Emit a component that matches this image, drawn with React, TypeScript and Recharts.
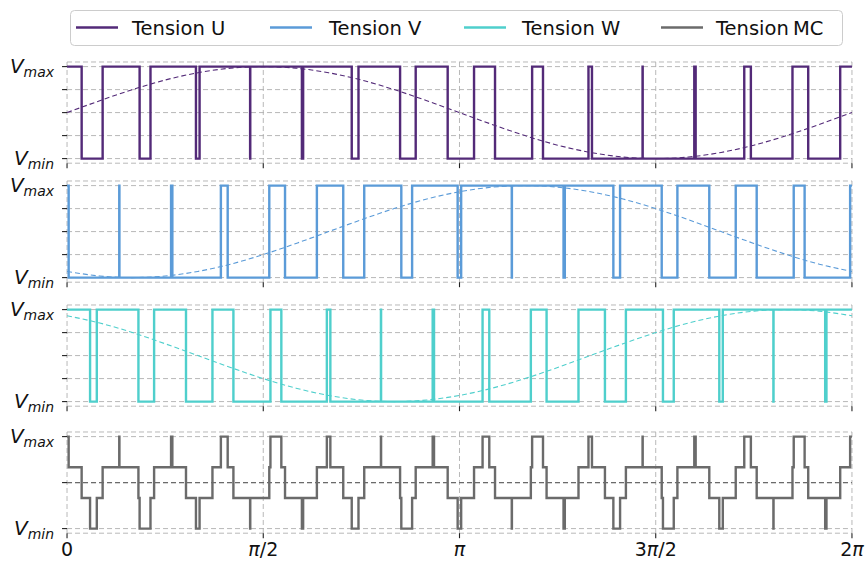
import React from "react";
import { LineChart, Line, XAxis, YAxis, CartesianGrid } from "recharts";

const X_MAX = 6.283185;
const xTicks = [0, 1.570796, 3.141593, 4.712389, 6.283185];
const xTickLabels = ["0", "π/2", "π", "3π/2", "2π"];

const legendLabels = ["Tension U", "Tension V", "Tension W", "Tension MC"];
const colors = ["#532a78", "#5b9bd8", "#4fcfcc", "#6b6b6b"];

// PWM low intervals (start of low level, end of low level), in radians
const uLowStart = [0.117, 0.581, 1.032, 1.4655, 1.88, 2.279, 2.666, 3.047, 3.426, 3.81, 4.202, 4.608, 5.032, 5.474, 5.933];
const uLowEnd = [0.285, 0.668, 1.061, 1.4667, 1.89, 2.333, 2.791, 3.258, 3.723, 4.174, 4.607, 5.021, 5.421, 5.807, 6.189];
const vLowStart = [0.013, 0.4194, 0.8431, 1.286, 1.745, 2.211, 2.6758, 3.1268, 3.5599, 3.9744, 4.3732, 4.7603, 5.1411, 5.5206, 5.9042];
const vLowEnd = [0.418, 0.8328, 1.2315, 1.619, 2.0, 2.379, 2.7623, 3.1549, 3.5611, 3.9846, 4.427, 4.8858, 5.3528, 5.817, 6.2685];
const wLowStart = [0.1844, 0.5715, 0.9523, 1.3318, 1.7154, 2.1078, 2.5139, 2.9377, 3.38, 3.8387, 4.3058, 4.7702, 5.2212, 5.6543, 6.0688];
const wLowEnd = [0.2383, 0.697, 1.164, 1.6282, 2.0798, 2.5127, 2.9269, 3.3263, 3.7127, 4.0941, 4.4736, 4.8567, 5.2493, 5.6554, 6.079];

// Reference (dashed) curves
const refX = [0, 0.262, 0.524, 0.785, 1.047, 1.309, 1.571, 1.833, 2.094, 2.356, 2.618, 2.88, 3.142, 3.403, 3.665, 3.927, 4.189, 4.451, 4.712, 4.974, 5.236, 5.498, 5.76, 6.021, 6.283];
const refU = [0.5, 0.629, 0.75, 0.854, 0.933, 0.983, 1, 0.983, 0.933, 0.854, 0.75, 0.629, 0.5, 0.371, 0.25, 0.146, 0.067, 0.017, 0, 0.017, 0.067, 0.146, 0.25, 0.371, 0.5];
const refV = [0.067, 0.017, 0, 0.017, 0.067, 0.146, 0.25, 0.371, 0.5, 0.629, 0.75, 0.854, 0.933, 0.983, 1, 0.983, 0.933, 0.854, 0.75, 0.629, 0.5, 0.371, 0.25, 0.146, 0.067];
const refW = [0.933, 0.854, 0.75, 0.629, 0.5, 0.371, 0.25, 0.146, 0.067, 0.017, 0, 0.017, 0.067, 0.146, 0.25, 0.371, 0.5, 0.629, 0.75, 0.854, 0.933, 0.983, 1, 0.983, 0.933];

const yTicksPhase = [0, 0.25, 0.5, 0.75, 1];
const yTicksMC = [0, 0.5, 1];

function pulseData(starts: number[], ends: number[]) {
  const pts: { x: number; y: number }[] = [{ x: 0, y: 1 }];
  starts.forEach((s, i) => {
    pts.push({ x: s, y: 0 });
    pts.push({ x: ends[i], y: 1 });
  });
  pts.push({ x: X_MAX, y: 1 });
  return pts;
}

function stateAt(starts: number[], ends: number[], x: number) {
  for (let i = 0; i < starts.length; i++) {
    if (x >= starts[i] && x < ends[i]) return 0;
  }
  return 1;
}

function mcValue(x: number) {
  return (
    stateAt(uLowStart, uLowEnd, x) +
    stateAt(vLowStart, vLowEnd, x) +
    stateAt(wLowStart, wLowEnd, x)
  ) / 3;
}

const mcEvents = Array.from(
  new Set([...uLowStart, ...uLowEnd, ...vLowStart, ...vLowEnd, ...wLowStart, ...wLowEnd])
).sort((a, b) => a - b);

const uData = pulseData(uLowStart, uLowEnd);
const vData = pulseData(vLowStart, vLowEnd);
const wData = pulseData(wLowStart, wLowEnd);
const mcData = [
  { x: 0, y: mcValue(0) },
  ...mcEvents.map((e) => ({ x: e, y: mcValue(e) })),
  { x: X_MAX, y: mcValue(X_MAX) },
];

const refUData = refX.map((x, i) => ({ x, y: refU[i] }));
const refVData = refX.map((x, i) => ({ x, y: refV[i] }));
const refWData = refX.map((x, i) => ({ x, y: refW[i] }));
const refMCData = refX.map((x, i) => ({ x, y: (refU[i] + refV[i] + refW[i]) / 3 }));

const FONT = "DejaVu Sans";

const YTick = (props: any) => {
  const { x, y, payload } = props;
  const v = payload.value;
  const sub = v === 1 ? "max" : v === 0 ? "min" : null;
  return (
    <g>
      <line x1={x - 5} x2={x} y1={y} y2={y} stroke="#222" strokeWidth={1.1} />
      {sub && (
        <text x={x - 13} y={y + 6} textAnchor="end" fontFamily={FONT} fontStyle="italic" fill="#111">
          <tspan fontSize={20}>V</tspan>
          <tspan fontSize={14} dy={4}>{sub}</tspan>
        </text>
      )}
    </g>
  );
};

const XTick = (props: any) => {
  const { x, y, payload, showLabels } = props;
  const idx = xTicks.indexOf(payload.value);
  const label = idx >= 0 ? xTickLabels[idx] : "";
  return (
    <g>
      <line x1={x} x2={x} y1={y} y2={y + 5} stroke="#222" strokeWidth={1.1} />
      {showLabels && (
        <text x={x} y={y + 23} textAnchor="middle" fontFamily={FONT} fontSize={19} fill="#111">
          {label.split("").map((ch, i) => (
            <tspan key={i} fontStyle={ch === "π" ? "italic" : "normal"}>{ch}</tspan>
          ))}
        </text>
      )}
    </g>
  );
};

const SCALE = 92;
const PLOT_H = SCALE * 1.1;
const MT = 18;

function Panel(props: { vmaxY: number; showLabels: boolean; yTicks: number[]; sig: any[]; refData: any[]; color: string }) {
  const { vmaxY, showLabels, yTicks, sig, refData, color } = props;
  const plotTop = vmaxY - 0.05 * SCALE;
  const xh = showLabels ? 40 : 10;
  return (
    <div style={{ position: "absolute", left: 0, top: plotTop - MT }}>
      <LineChart width={866} height={MT + PLOT_H + xh} margin={{ top: MT, right: 14, bottom: 0, left: 0 }}>
        <CartesianGrid strokeDasharray="5 3" stroke="#b0b0b0" strokeWidth={0.9} />
        <XAxis
          type="number"
          dataKey="x"
          domain={[0, X_MAX]}
          ticks={xTicks}
          interval={0}
          axisLine={false}
          tickLine={false}
          tickSize={0}
          tickMargin={0}
          height={xh}
          tick={<XTick showLabels={showLabels} />}
        />
        <YAxis
          type="number"
          domain={[-0.05, 1.05]}
          ticks={yTicks}
          interval={0}
          axisLine={false}
          tickLine={false}
          tickSize={0}
          tickMargin={0}
          width={67}
          tick={<YTick />}
        />
        <Line data={refData} dataKey="y" type="natural" stroke={color} strokeWidth={1.1} strokeDasharray="5 3" dot={false} isAnimationActive={false} />
        <Line data={sig} dataKey="y" type="stepAfter" stroke={color} strokeWidth={2.4} dot={false} isAnimationActive={false} />
      </LineChart>
    </div>
  );
}

const legendLineX = [76, 270, 464, 661];
const legendTextX = [132, 329, 522, 716];

export default function App() {
  return (
    <div style={{ position: "absolute", left: 0, top: 0, width: 866, height: 565, background: "#fff" }}>
      <Panel vmaxY={66.5} showLabels={false} yTicks={yTicksPhase} sig={uData} refData={refUData} color={colors[0]} />
      <Panel vmaxY={186} showLabels={false} yTicks={yTicksPhase} sig={vData} refData={refVData} color={colors[1]} />
      <Panel vmaxY={310} showLabels={false} yTicks={yTicksPhase} sig={wData} refData={refWData} color={colors[2]} />
      <Panel vmaxY={436.5} showLabels={true} yTicks={yTicksMC} sig={mcData} refData={refMCData} color={colors[3]} />
      <svg width={866} height={56} style={{ position: "absolute", left: 0, top: 0 }}>
        <rect x={70.5} y={10.5} width={772} height={35} rx={4} fill="#fff" stroke="#cccccc" strokeWidth={1} />
        {legendLabels.map((l, i) => (
          <g key={l}>
            <line x1={legendLineX[i]} x2={legendLineX[i] + 42} y1={27.5} y2={27.5} stroke={colors[i]} strokeWidth={2.6} />
            <text x={legendTextX[i]} y={34.5} fontSize={19.5} fontFamily={FONT} fill="#111" style={{ wordSpacing: i === 3 ? -2 : 0 }}>
              {l}
            </text>
          </g>
        ))}
      </svg>
    </div>
  );
}
